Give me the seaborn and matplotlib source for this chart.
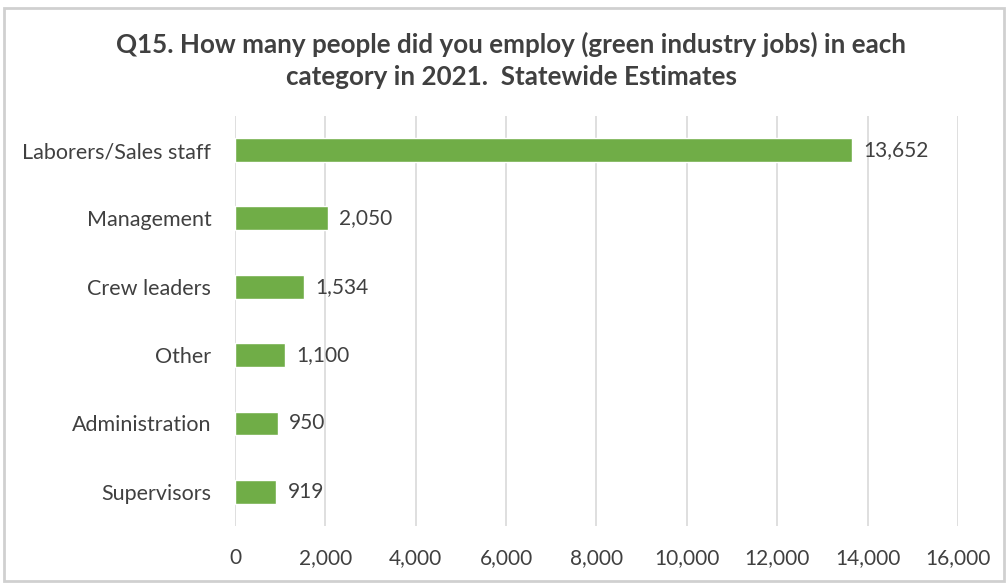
import matplotlib
matplotlib.use("Agg")
import matplotlib.pyplot as plt
from matplotlib.patches import Rectangle
import seaborn as sns
import pandas as pd

categories = ["Laborers/Sales staff", "Management", "Crew leaders", "Other",
              "Administration", "Supervisors"]
employees = [13652, 2050, 1534, 1100, 950, 919]
x_ticks = [0, 2000, 4000, 6000, 8000, 10000, 12000, 14000, 16000]
title = ("Q15. How many people did you employ (green industry jobs) in each\n"
         "category in 2021.  Statewide Estimates")

df = pd.DataFrame({"category": categories, "employees": employees})

sns.set_theme(style="white")
plt.rcParams["font.family"] = ["Lato", "DejaVu Sans"]

text_color = "#404040"
grid_color = "#D9D9D9"
bar_color = "#70AD47"

fig = plt.figure(figsize=(10.08, 5.85), dpi=100)
ax = fig.add_axes([0.2331, 0.1009, 0.7173, 0.7009])

sns.barplot(data=df, x="employees", y="category", order=categories,
            color=bar_color, saturation=1, width=0.35, ax=ax)

ax.set_xlim(0, 16000)
ax.set_xticks(x_ticks)
ax.set_xticklabels([f"{v:,}" for v in x_ticks], fontsize=15, color=text_color)
ax.tick_params(axis="y", labelsize=15.5, labelcolor=text_color, length=0, pad=17)
ax.tick_params(axis="x", length=0, pad=16)
ax.set_xlabel("")
ax.set_ylabel("")
for s in ax.spines.values():
    s.set_visible(False)
ax.xaxis.grid(True, color=grid_color, linewidth=1.2)
ax.yaxis.grid(False)
ax.set_axisbelow(True)

for i, v in enumerate(employees):
    ax.text(v + 250, i, f"{v:,}", va="center", ha="left",
            fontsize=15, color=text_color)

fig.text(0.507, 0.897, title, ha="center", va="center", fontsize=18.7,
         fontweight="bold", color=text_color, linespacing=1.4)

# outer chart frame
fig.patches.append(Rectangle((0.004, 0.006), 0.992, 0.98, transform=fig.transFigure,
                             fill=False, edgecolor="#D0D0D0", linewidth=2))

fig.savefig("out.png", dpi=100, facecolor="white")
